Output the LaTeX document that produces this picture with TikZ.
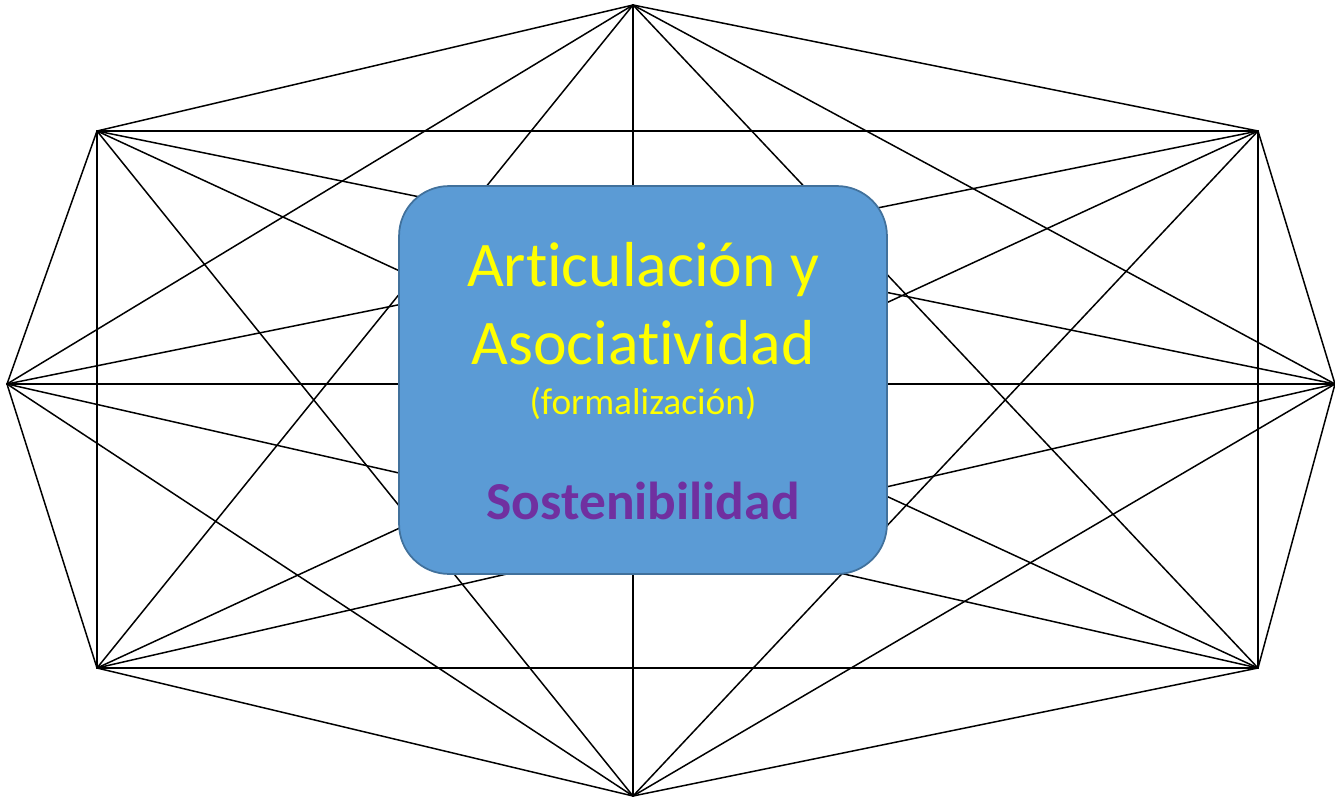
\documentclass[tikz,border=0pt]{standalone}
\usepackage{fontspec}
\setmainfont{Carlito}[Ligatures=NoCommon]
\usepackage{tikz}
\usetikzlibrary{positioning}
\definecolor{boxblue}{HTML}{5B9BD5}
\definecolor{boxedge}{HTML}{41719C}
\definecolor{titleyellow}{HTML}{FFFF00}
\definecolor{sostpurple}{HTML}{7030A0}
\tikzset{corner/.style={inner sep=0pt,minimum size=0pt},
	 link/.style={draw=black,line width=0.85pt},
	 centrebox/.style={rectangle,rounded corners=1cm,draw=boxedge,line width=1pt,fill=boxblue,
	 	minimum width=9.76cm,minimum height=7.76cm,inner sep=0pt},
	 bigtext/.style={anchor=base,text=titleyellow,font=\fontsize{36.2}{43}\selectfont,inner sep=0pt},
	 smalltext/.style={anchor=base,text=titleyellow,font=\fontsize{21.3}{25}\selectfont,inner sep=0pt},
	 sosttext/.style={anchor=base,text=sostpurple,font=\bfseries\fontsize{30.4}{36}\selectfont,inner sep=0pt}
	 }

\begin{document}
\begin{tikzpicture}[x=0.02cm,y=-0.02cm]
	\useasboundingbox (0,0) rectangle (1335,798);
	% octagon corners
	\coordinate (v1) at (633,5);
	\coordinate (v2) at (1258,131);
	\coordinate (v3) at (1335,384);
	\coordinate (v4) at (1258,668);
	\coordinate (v5) at (633,796);
	\coordinate (v6) at (97,668);
	\coordinate (v7) at (7,384);
	\coordinate (v8) at (97,131);
	% every corner joined to every other
	\foreach \i in {1,...,7} {
		\pgfmathtruncatemacro{\next}{\i+1}
		\foreach \j in {\next,...,8}
			\draw[link,line cap=round,line join=round] (v\i) -- (v\j);
	}
	\node[centrebox] (box) at (643,380) {};
	\node[bigtext] (art) at (643,286) {Articulación y};
	\node[bigtext] (aso) at (643,364) {Asociatividad};
	\node[smalltext] (form) at (643,414) {(formalización)};
	\node[sosttext] (sost) at (643,519) {Sostenibilidad};
\end{tikzpicture}
\end{document}
